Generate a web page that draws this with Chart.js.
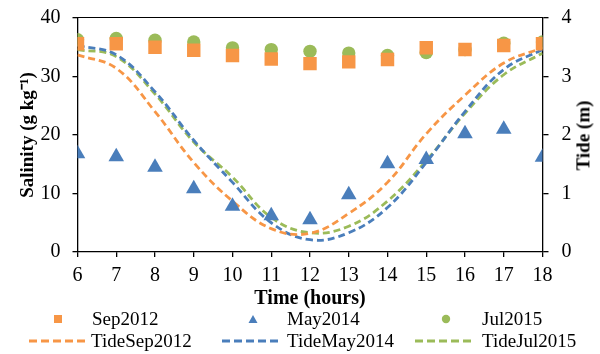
<!DOCTYPE html>
<html><head><meta charset="utf-8">
<script src="https://cdn.jsdelivr.net/npm/chart.js@4"></script>
<style>
html,body{margin:0;padding:0;background:#fff;}
#wrap{position:relative;width:600px;height:354px;overflow:hidden;}
canvas{position:absolute;left:0;top:0;}
.lg{position:absolute;font-family:"Liberation Serif","Times New Roman",serif;font-size:19px;color:#000;line-height:1;white-space:nowrap;}
.mk{position:absolute;}
#rt{position:absolute;font-family:"Liberation Serif","Times New Roman",serif;font-size:19px;font-weight:bold;color:#000;white-space:nowrap;line-height:1;transform-origin:center center;}
#topline{position:absolute;height:0;border-top:1.5px solid #000;}
</style></head>
<body><div id="wrap"><canvas id="c" width="600" height="354"></canvas>
<div id="topline"></div>
<div id="legend"></div><div id="rt">Tide (m)</div></div>
<script>
const hours = [6,7,8,9,10,11,12,13,14,15,16,17,18];
const sep2012 = [35.6,35.6,35.0,34.5,33.6,33.0,32.2,32.5,32.9,34.9,34.6,35.3,35.6];
const may2014 = [16.8,16.3,14.5,10.8,7.8,6.2,5.5,9.8,15.1,15.8,20.2,21.0,16.2];
const jul2015 = [36.3,36.5,36.2,35.9,34.9,34.6,34.3,34.0,33.6,34.1,34.6,35.7,35.9];
const tideSep2012 = [3.37,3.14,2.40,1.53,0.87,0.40,0.32,0.66,1.19,2.02,2.68,3.23,3.49];
const tideMay2014 = [3.53,3.37,2.74,1.91,1.19,0.50,0.21,0.33,0.76,1.53,2.40,3.12,3.46];
const tideJul2015 = [3.46,3.34,2.70,1.88,1.28,0.59,0.33,0.44,0.87,1.56,2.37,3.03,3.40];
const salTicks = [0,10,20,30,40];
const tideTicks = [0,1,2,3,4];

const ORANGE='#F79646', BLUE='#4A7EBB', GREEN='#9BBB59';
const pts = arr => arr.map((v,i)=>({x:hours[i],y:v}));
const FONT = "'Liberation Serif','Times New Roman',serif";

const dashed = (label, data, color) => ({
  type:'line', label, data:pts(data), yAxisID:'yR', borderColor:color, backgroundColor:color,
  borderWidth:2.8, borderDash:[7,4], pointRadius:0, tension:0.4, fill:false, order:2
});
const scatter = (label, data, color, style, r) => ({
  type:'scatter', label, data:pts(data), yAxisID:'yL', backgroundColor:color, borderColor:color,
  borderWidth:0, pointStyle:style, pointRadius:r, pointHoverRadius:r, order:1
});
const tickGrid = len => ({display:true, drawOnChartArea:false, drawTicks:true, tickLength:len, color:'#000', lineWidth:1.3});
const noPad = s => { s.paddingTop = 0; s.paddingBottom = 0; s.paddingLeft = 0; s.paddingRight = 0; };

const chart = new Chart(document.getElementById('c'), {
  type:'scatter',
  data:{datasets:[
    scatter('Sep2012', sep2012, ORANGE, 'rect', 9.5),
    scatter('May2014', may2014, BLUE, 'triangle', 9),
    scatter('Jul2015', jul2015, GREEN, 'circle', 6.7),
    dashed('TideSep2012', tideSep2012, ORANGE),
    dashed('TideMay2014', tideMay2014, BLUE),
    dashed('TideJul2015', tideJul2015, GREEN)
  ]},
  options:{
    responsive:false, animation:false, devicePixelRatio:1,
    layout:{padding:{left:0,right:0,top:18,bottom:42}},
    plugins:{legend:{display:false}, tooltip:{enabled:false}},
    scales:{
      x:{type:'linear', min:6, max:18, position:'bottom',
        afterBuildTicks: s => { s.ticks = hours.map(v=>({value:v})); },
        afterFit: s => { s.height = 60; noPad(s); },
        grid:tickGrid(5),
        border:{color:'#000', width:1.3},
        ticks:{color:'#000', font:{family:FONT,size:20}, padding:7, autoSkip:false, maxRotation:0},
        title:{display:true, text:'Time (hours)', color:'#000', font:{family:FONT,size:20,weight:'bold'}, padding:{top:0,bottom:1}}
      },
      yL:{type:'linear', min:0, max:40, position:'left',
        afterBuildTicks: s => { s.ticks = salTicks.map(v=>({value:v})); },
        afterFit: s => { s.width = 77.5; noPad(s); },
        grid:tickGrid(5),
        border:{color:'#000', width:1.3},
        ticks:{color:'#000', font:{family:FONT,size:20}, padding:12},
        title:{display:true, text:'Salinity (g kg⁻¹)', color:'#000', font:{family:FONT,size:19,weight:'bold'}, padding:{top:17,bottom:0}}
      },
      yR:{type:'linear', min:0, max:4, position:'right',
        afterBuildTicks: s => { s.ticks = tideTicks.map(v=>({value:v})); },
        afterFit: s => { s.width = 57.5; noPad(s); },
        grid:tickGrid(6),
        border:{color:'#000', width:1.3},
        ticks:{color:'#000', font:{family:FONT,size:20}, padding:13},
        title:{display:false}
      }
    }
  }
});

// top frame line of the plot area, placed from the chart's own area
const a = chart.chartArea;
const tl = document.getElementById('topline');
tl.style.left = (a.left - 0.6) + 'px';
tl.style.width = (a.right - a.left + 1.2) + 'px';
tl.style.top = (a.top - 0.75) + 'px';

// right axis title (reads bottom-to-top like the reference)
const rt = document.getElementById('rt');
const rw = rt.offsetWidth, rh = rt.offsetHeight;
rt.style.left = (583 - rw/2) + 'px';
rt.style.top = ((a.top + a.bottom)/2 - rh/2) + 'px';
rt.style.transform = 'rotate(-90deg)';

// HTML legend
const legendItems = [
  {label:'Sep2012', color:ORANGE, kind:'rect', mx:58, tx:92, y:319},
  {label:'May2014', color:BLUE, kind:'tri', mx:253, tx:287, y:319},
  {label:'Jul2015', color:GREEN, kind:'circle', mx:446, tx:482, y:319},
  {label:'TideSep2012', color:ORANGE, kind:'dash', mx:29, tx:91, y:341},
  {label:'TideMay2014', color:BLUE, kind:'dash', mx:222, tx:287, y:341},
  {label:'TideJul2015', color:GREEN, kind:'dash', mx:415, tx:482, y:341}
];
const lg = document.getElementById('legend');
legendItems.forEach(it=>{
  let svg;
  if(it.kind==='rect') svg=`<svg class="mk" style="left:${it.mx-5}px;top:${it.y-5}px" width="10" height="10"><rect x="1" y="1" width="8" height="8" fill="${it.color}"/></svg>`;
  else if(it.kind==='tri') svg=`<svg class="mk" style="left:${it.mx-5}px;top:${it.y-5}px" width="10" height="10"><polygon points="5,1 9.5,9 0.5,9" fill="${it.color}"/></svg>`;
  else if(it.kind==='circle') svg=`<svg class="mk" style="left:${it.mx-5}px;top:${it.y-5}px" width="10" height="10"><circle cx="5" cy="5" r="4.2" fill="${it.color}"/></svg>`;
  else svg=`<svg class="mk" style="left:${it.mx}px;top:${it.y-3}px" width="60" height="6"><line x1="0" y1="3" x2="60" y2="3" stroke="${it.color}" stroke-width="2.8" stroke-dasharray="8,4"/></svg>`;
  lg.insertAdjacentHTML('beforeend', svg + `<span class="lg" style="left:${it.tx}px;top:${it.y-10}px">${it.label}</span>`);
});
</script></body></html>
